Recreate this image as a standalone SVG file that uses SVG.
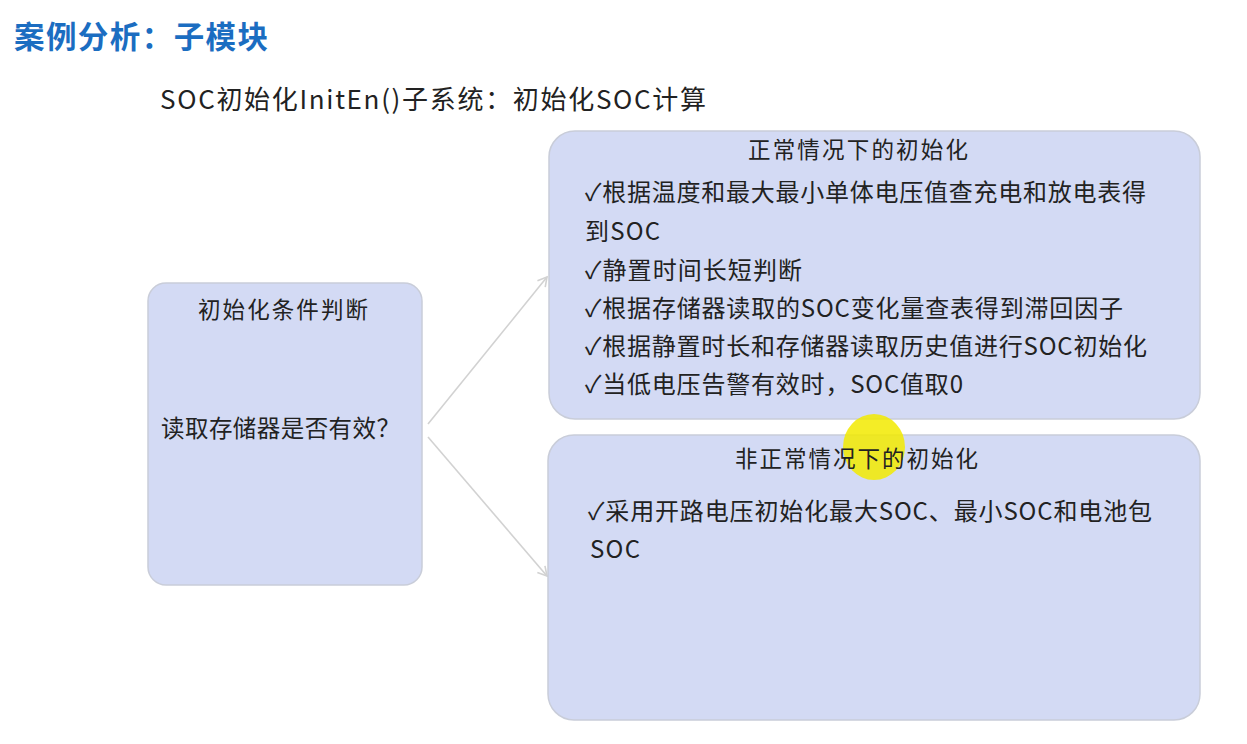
<svg xmlns="http://www.w3.org/2000/svg" width="1247" height="744" viewBox="0 0 1247 744">
<style>
.box{fill:#D3DAF4;stroke:#C9CDD9;stroke-width:1.5}
.t{font-family:"Noto Sans CJK SC","Liberation Sans",sans-serif;fill:#222}
.hd{font-size:22.5px}
.it{font-size:24px}
.conn{stroke:#D2D2D2;stroke-width:1.6;fill:none}
</style>
<defs>
<marker id="arr" markerWidth="12" markerHeight="12" refX="10" refY="6" orient="auto" markerUnits="userSpaceOnUse">
<path d="M1,1 L10,6 L1,11" fill="none" stroke="#D2D2D2" stroke-width="1.6"/>
</marker>
</defs>
<rect width="1247" height="744" fill="#FFFFFF"/>
<text x="14" y="48" class="t" style="font-size:30.5px;font-weight:bold;fill:#1B6DC1" textLength="254" lengthAdjust="spacing">案例分析：子模块</text>
<text x="160" y="109" class="t" style="font-size:26px" textLength="546" lengthAdjust="spacing">SOC初始化InitEn()子系统：初始化SOC计算</text>
<g id="connectors">
<line class="conn" x1="428" y1="424" x2="547" y2="277" marker-end="url(#arr)"/>
<line class="conn" x1="428" y1="437" x2="547" y2="576" marker-end="url(#arr)"/>
</g>
<g id="node-cond">
<rect class="box" x="148" y="283" width="274" height="302" rx="18"/>
<text x="198" y="318" class="t hd" textLength="170" lengthAdjust="spacing">初始化条件判断</text>
<text x="161" y="437" class="t" style="font-size:23.5px" textLength="239" lengthAdjust="spacing">读取存储器是否有效？</text>
</g>
<g id="node-normal">
<rect class="box" x="549" y="131" width="651" height="288" rx="26"/>
<text x="748" y="158" class="t hd" textLength="220" lengthAdjust="spacing">正常情况下的初始化</text>
<text x="585" y="201" class="t it" textLength="561" lengthAdjust="spacing">✓根据温度和最大最小单体电压值查充电和放电表得</text>
<text x="585" y="240" class="t it" textLength="75" lengthAdjust="spacing">到SOC</text>
<text x="585" y="279" class="t it" textLength="217" lengthAdjust="spacing">✓静置时间长短判断</text>
<text x="585" y="317" class="t it" textLength="538" lengthAdjust="spacing">✓根据存储器读取的SOC变化量查表得到滞回因子</text>
<text x="585" y="355" class="t it" textLength="562" lengthAdjust="spacing">✓根据静置时长和存储器读取历史值进行SOC初始化</text>
<text x="585" y="393" class="t it" textLength="378" lengthAdjust="spacing">✓当低电压告警有效时，SOC值取0</text>
</g>
<g id="node-abnormal">
<rect class="box" x="548" y="435" width="652" height="285" rx="26"/>
<ellipse cx="874" cy="447" rx="31" ry="33" fill="#F2EA00" opacity="0.85"/>
<text x="735" y="467" class="t hd" textLength="243" lengthAdjust="spacing">非正常情况下的初始化</text>
<text x="588" y="520" class="t it" textLength="564" lengthAdjust="spacing">✓采用开路电压初始化最大SOC、最小SOC和电池包</text>
<text x="590" y="558" class="t it" textLength="50" lengthAdjust="spacing">SOC</text>
</g>
</svg>
